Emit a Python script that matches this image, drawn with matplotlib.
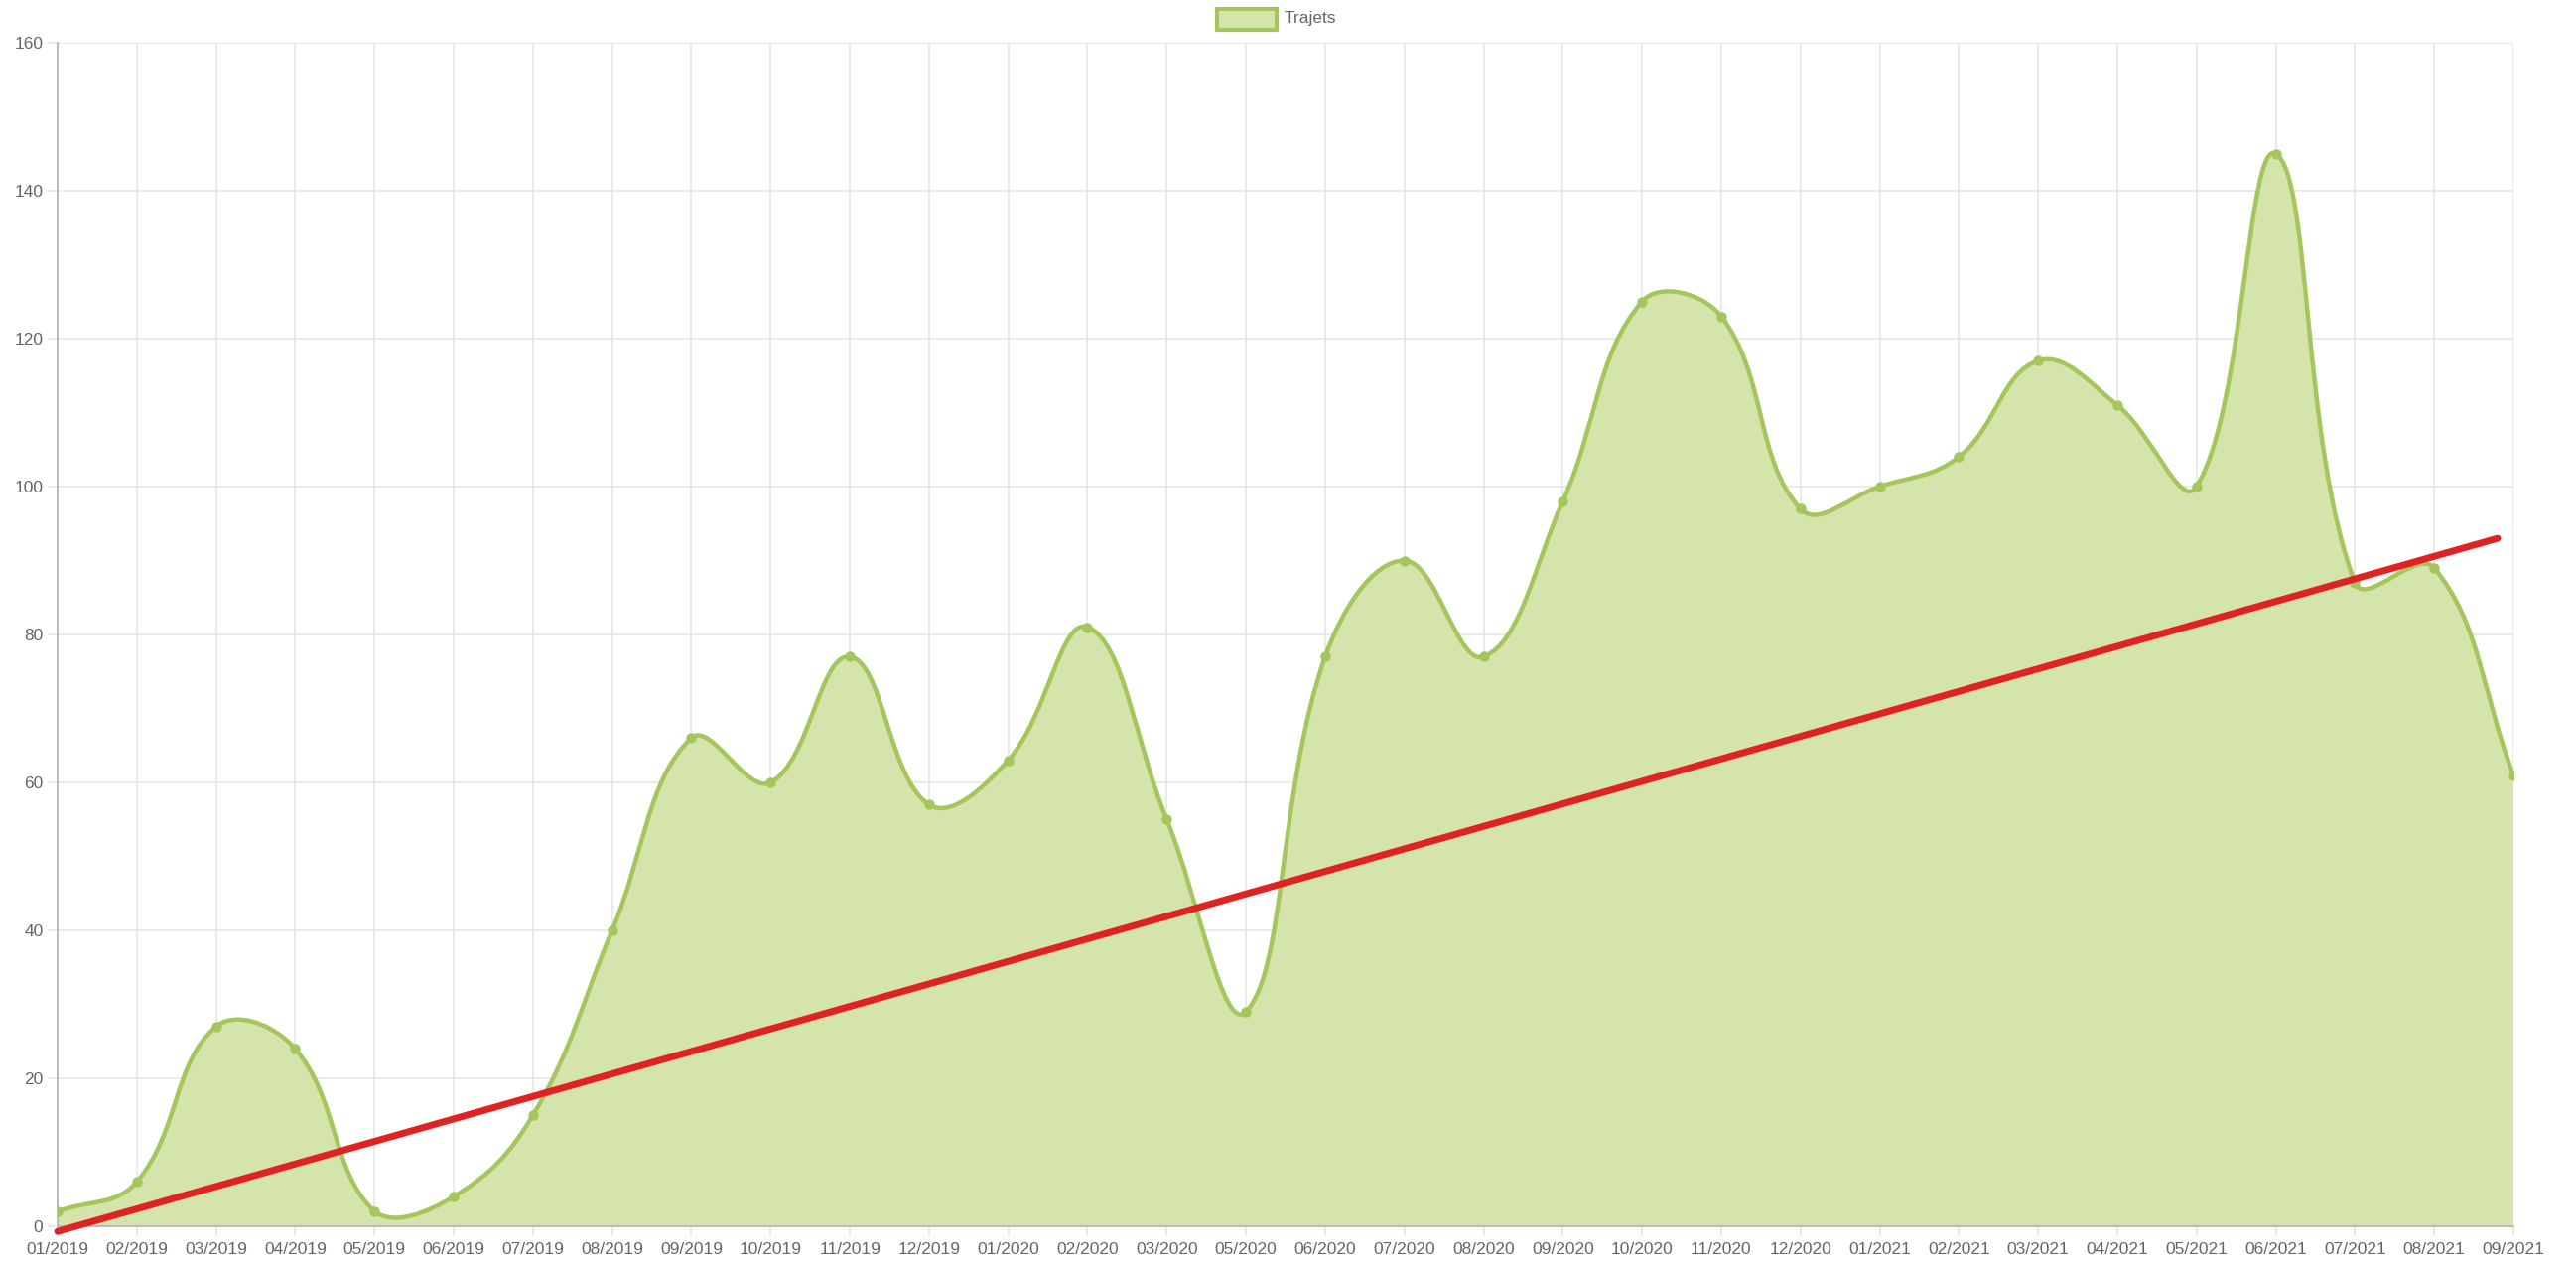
import numpy as np
import matplotlib
matplotlib.use("Agg")
import matplotlib.pyplot as plt
from matplotlib.path import Path
from matplotlib.patches import PathPatch, Rectangle

# ---------------- data ----------------
months = ["01/2019", "02/2019", "03/2019", "04/2019", "05/2019", "06/2019",
          "07/2019", "08/2019", "09/2019", "10/2019", "11/2019", "12/2019",
          "01/2020", "02/2020", "03/2020", "05/2020", "06/2020", "07/2020",
          "08/2020", "09/2020", "10/2020", "11/2020", "12/2020", "01/2021",
          "02/2021", "03/2021", "04/2021", "05/2021", "06/2021", "07/2021",
          "08/2021", "09/2021"]
trajets = [2, 6, 27, 24, 2, 4, 15, 40, 66, 60, 77, 57, 63, 81, 55, 29, 77, 90,
           77, 98, 125, 123, 97, 100, 104, 117, 111, 100, 145, 87, 89, 61]
# hand-drawn trend line endpoints (category index, value)
trend_x = [0.0, 30.8]
trend_y = [-0.7, 93.0]
y_ticks = [0, 20, 40, 60, 80, 100, 120, 140, 160]
series_label = "Trajets"

LINE = "#a4c65c"
FILL = "#d4e4aa"
GRID = "#e6e6e6"
TXT = "#666666"

plt.rcParams['font.family'] = ['Liberation Sans', 'DejaVu Sans']

W, H = 2595, 1273
fig = plt.figure(figsize=(W / 100, H / 100), dpi=100)
left, right, bottom, top = 58, 2532, 1235, 43
ax = fig.add_axes([left / W, 1 - bottom / H, (right - left) / W, (bottom - top) / H])

n = len(trajets)
xs = np.arange(n)
ax.set_xlim(0, n - 1)
ax.set_ylim(0, 160)

# --- Chart.js style spline (tension 0.4) computed in pixel space ---
pts = ax.transData.transform(np.column_stack([xs, trajets]))
bb = ax.bbox
t = 0.4
prev_cp, next_cp = [], []
for i in range(n):
    p0 = pts[max(i - 1, 0)]
    p1 = pts[i]
    p2 = pts[min(i + 1, n - 1)]
    d01 = np.hypot(*(p1 - p0))
    d12 = np.hypot(*(p2 - p1))
    s = d01 + d12
    s01 = d01 / s if s else 0
    s12 = d12 / s if s else 0
    fa, fb = t * s01, t * s12
    pc = p1 - fa * (p2 - p0)
    nc = p1 + fb * (p2 - p0)
    for c in (pc, nc):
        c[0] = min(max(c[0], bb.x0), bb.x1)
        c[1] = min(max(c[1], bb.y0), bb.y1)
    prev_cp.append(pc)
    next_cp.append(nc)

inv = ax.transData.inverted()
verts = [pts[0]]
codes = [Path.MOVETO]
for i in range(n - 1):
    verts += [next_cp[i], prev_cp[i + 1], pts[i + 1]]
    codes += [Path.CURVE4] * 3
verts = inv.transform(np.array(verts))

line_path = Path(verts, codes)
fill_verts = np.vstack([verts, [[n - 1, 0], [0, 0], verts[0]]])
fill_codes = codes + [Path.LINETO, Path.LINETO, Path.CLOSEPOLY]
fill_path = Path(fill_verts, fill_codes)

ax.add_patch(PathPatch(fill_path, facecolor=FILL, edgecolor='none', zorder=2))
ax.add_patch(PathPatch(line_path, facecolor='none', edgecolor=LINE, lw=3.2,
                       zorder=3, capstyle='round', joinstyle='round'))
ax.plot(xs, trajets, 'o', color=LINE, ms=6.5, mec=LINE, zorder=4)

# trend line
ax.plot(trend_x, trend_y, color="#e02222", lw=5, solid_capstyle='round',
        zorder=5, clip_on=False)

# --- axes styling ---
ax.set_xticks(xs)
ax.set_xticklabels(months)
ax.set_yticks(y_ticks)
ax.grid(True, color=GRID, lw=1.2, zorder=0)
ax.set_axisbelow(True)
for side in ('top', 'right'):
    ax.spines[side].set_visible(False)
for side in ('left', 'bottom'):
    ax.spines[side].set_color('#b5b5b5')
    ax.spines[side].set_linewidth(1.3)
ax.tick_params(axis='both', colors=GRID, length=7.5, width=1.2,
               labelcolor=TXT, labelsize=12.5)
ax.tick_params(axis='y', pad=3)
ax.tick_params(axis='x', pad=4)

# --- legend (Chart.js style, top centre) ---
fig.patches.append(Rectangle((1226 / W, 1 - 30 / H), 60 / W, 21 / H,
                             transform=fig.transFigure, facecolor=FILL,
                             edgecolor=LINE, lw=3))
fig.text(1294 / W, 1 - 19 / H, series_label, color=TXT, fontsize=12.5,
         ha='left', va='center')

fig.savefig("out.png", dpi=100, facecolor='white')
